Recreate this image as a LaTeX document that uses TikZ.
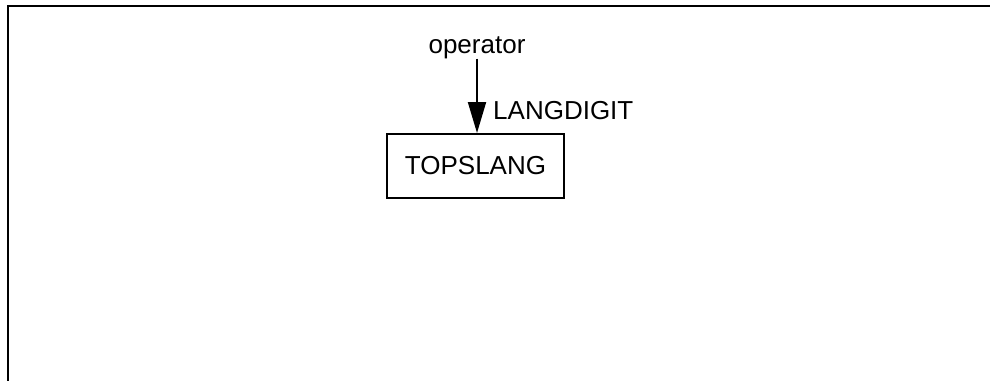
\documentclass[tikz,border=0pt]{standalone}
\usepackage{fontspec}
\setmainfont{Liberation Sans}
\usetikzlibrary{arrows.meta}
\begin{document}
\begin{tikzpicture}[x=1pt,y=-1pt,
  lbl/.style={font=\fontsize{26}{30}\selectfont, inner sep=0pt},
  boxnode/.style={draw, line width=2pt, minimum width=177pt, minimum height=64pt, inner sep=0pt, font=\fontsize{26}{30}\selectfont},
  conn/.style={line width=2pt, -{Triangle[length=31pt,width=18pt]}},
  frame/.style={line width=2pt}]
\useasboundingbox (0,0) rectangle (990,381);
\coordinate (ftr) at (990,6);
\coordinate (ftl) at (8,6);
\coordinate (fbl) at (8,381);
\draw[frame] (ftr) -- (ftl) -- (fbl);
\node[lbl, anchor=base] (op) at (477,53) {operator};
\node[boxnode] (box) at (475.5,166) {TOPSLANG};
\draw[conn] (op.south) -- (op.south |- box.north);
\node[lbl, anchor=base west] (lg) at (493,119) {LANGDIGIT};
\end{tikzpicture}
\end{document}
